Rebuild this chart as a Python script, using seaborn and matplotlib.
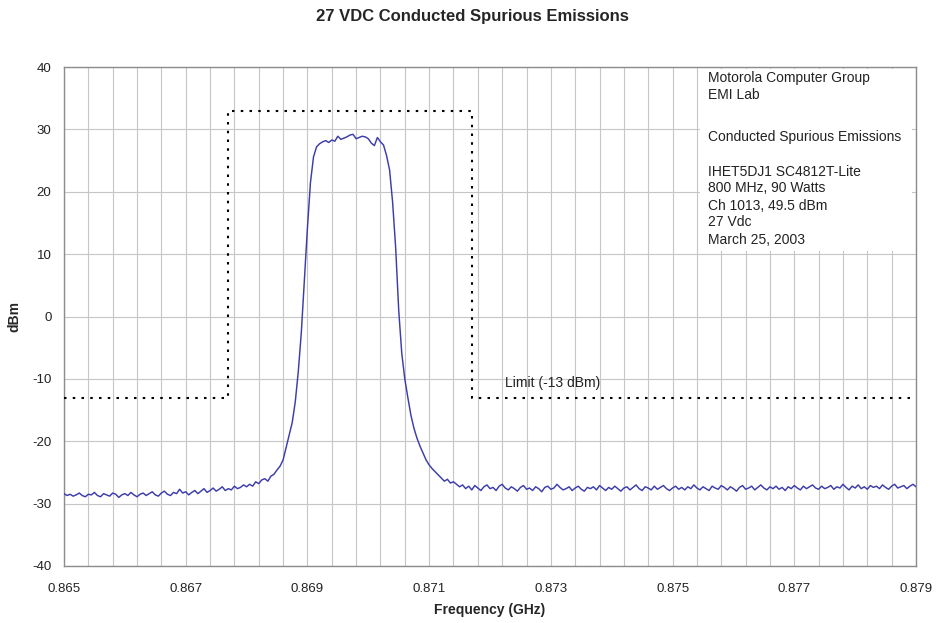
import numpy as np
import pandas as pd
import matplotlib
matplotlib.use("Agg")
import matplotlib.pyplot as plt
from matplotlib.patches import Rectangle
import seaborn as sns

# Spectrum analyzer trace, 0.865 - 0.879 GHz sweep (dBm readings)
trace_dbm = [
    # lower out-of-band floor
    -28.4, -28.7, -28.5, -28.8, -28.6, -28.3, -28.7, -28.9, -28.5, -28.6,
    -28.2, -28.7, -28.9, -28.4, -28.6, -28.8, -28.3, -28.5, -29.0, -28.6,
    -28.4, -28.7, -28.2, -28.6, -28.9, -28.5, -28.3, -28.7, -28.4, -28.1,
    -28.6, -28.8, -28.3, -28.0, -28.5, -28.7, -28.2, -28.4, -27.7, -28.3,
    -28.1, -28.6, -28.2, -27.9, -28.4, -28.0, -27.6, -28.2, -27.9, -27.5,
    -28.0, -27.7, -27.3, -27.9, -27.6, -27.8, -27.2, -27.6, -27.4, -27.0,
    -27.3, -26.9, -27.2, -26.5, -26.8, -26.2,
    # carrier skirt and occupied band
    -26.0, -26.4, -25.6, -25.3, -24.6, -24.0, -23.0, -21.0, -19.0, -17.0,
    -13.7, -8.8, -2.5, 5.8, 14.2, 21.5, 25.6, 27.2, 27.7, 28.0,
    28.2, 27.9, 28.3, 28.1, 28.9, 28.4, 28.6, 28.8, 29.1, 29.2,
    28.5, 28.7, 28.9, 28.8, 28.5, 27.8, 27.4, 28.7, 28.0, 27.5,
    25.8, 23.5, 18.3, 11.0, 1.0, -5.9, -10.0, -13.0, -15.8, -17.9,
    -19.5, -20.8, -21.9, -23.0, -23.8, -24.4, -24.9, -25.4, -25.9, -26.4,
    -26.1, -26.7, -26.5,
    # upper out-of-band floor
    -26.9, -27.3, -27.0, -27.6, -27.2, -27.8, -27.1, -27.5, -27.9, -27.3,
    -27.0, -27.6, -27.4, -27.9, -27.2, -26.9, -27.5, -27.8, -27.3, -27.6,
    -28.0, -27.4, -27.1, -27.7, -27.5, -27.9, -27.3, -27.6, -28.1, -27.4,
    -27.2, -27.7, -27.5, -26.9, -27.4, -27.8, -27.6, -27.3, -27.9, -27.5,
    -27.2, -27.7, -28.0, -27.4, -27.6, -27.3, -27.8, -27.1, -27.5, -27.9,
    -27.4, -27.7, -27.2, -27.6, -28.0, -27.5, -27.3, -27.8, -27.4, -27.0,
    -27.6, -27.9, -27.3, -27.5, -27.8, -27.2, -27.7, -27.4, -27.1, -27.6,
    -27.9, -27.5, -27.2, -27.7, -27.4, -27.8, -27.3, -27.6, -27.0, -27.5,
    -27.8, -27.3, -27.6, -27.9, -27.2, -27.5, -27.7, -27.1, -27.4, -27.8,
    -27.3, -27.6, -28.0, -27.4, -27.1, -27.7, -27.5, -27.2, -27.8, -27.4,
    -27.0, -27.5, -27.8, -27.3, -27.6, -27.2, -27.7, -27.4, -27.9, -27.3,
    -27.6, -27.1, -27.5, -27.8, -27.2, -27.6, -27.3, -27.0, -27.5, -27.7,
    -27.2, -27.6, -27.4, -27.1, -27.7, -27.3, -27.5, -26.9, -27.4, -27.8,
    -27.2, -27.5, -27.0, -27.6, -27.3, -27.7, -27.1, -27.4, -27.2, -27.6,
    -27.0, -27.4, -27.7, -27.2, -26.9, -27.5, -27.3, -27.1, -27.6, -27.2,
    -26.9, -27.3,
]
sweep_start_ghz = 0.865
sweep_stop_ghz = 0.879

# Emission mask (-13 dBm outside the authorised band)
limit_freq = [0.865, 0.8677, 0.8677, 0.8717, 0.8717, 0.879]
limit_dbm = [-13, -13, 33, 33, -13, -13]

x_ticks = [0.865, 0.867, 0.869, 0.871, 0.873, 0.875, 0.877, 0.879]
y_ticks = [-40, -30, -20, -10, 0, 10, 20, 30, 40]

info_lines = [
    "Motorola Computer Group",
    "EMI Lab",
    "Conducted Spurious Emissions",
    "IHET5DJ1 SC4812T-Lite",
    "800 MHz, 90 Watts",
    "Ch 1013, 49.5 dBm",
    "27 Vdc",
    "March 25, 2003",
]
info_rows = [0, 1, 3.5, 5.5, 6.5, 7.5, 8.5, 9.5]

sns.set_style("white")
plt.rcParams["font.family"] = ["Liberation Sans", "DejaVu Sans"]
plt.rcParams["axes.unicode_minus"] = False

trace = pd.DataFrame({
    "freq": np.linspace(sweep_start_ghz, sweep_stop_ghz, len(trace_dbm)),
    "dbm": trace_dbm,
})
mask = pd.DataFrame({"freq": limit_freq, "dbm": limit_dbm})

W, H = 938, 623
L, R, T, B = 64, 916, 67, 566
fig = plt.figure(figsize=(W / 100, H / 100), dpi=100)
ax = fig.add_axes([L / W, 1 - B / H, (R - L) / W, (B - T) / H])


def px_to_data(px, py):
    fx = 0.865 + (px - L) / (R - L) * 0.014
    fy = 40 - (py - T) / (B - T) * 80
    return fx, fy


# fine vertical grid every 0.4 MHz, horizontal grid every 10 dB
for fx in np.arange(0.865, 0.87901, 0.0004):
    ax.axvline(fx, color="#c6c6c6", lw=0.8, zorder=0)
for yv in y_ticks:
    ax.axhline(yv, color="#c6c6c6", lw=0.8, zorder=0)

sns.lineplot(data=mask, x="freq", y="dbm", sort=False, estimator=None,
             color="black", lw=1.5, linestyle=(0, (1.2, 3.0)), ax=ax, zorder=3)
sns.lineplot(data=trace, x="freq", y="dbm", sort=False, estimator=None,
             color="#3c3cab", lw=1.05, ax=ax, zorder=4)

ax.set_xlim(0.865, 0.879)
ax.set_ylim(-40, 40)
ax.set_xticks(x_ticks)
ax.set_xticklabels([f"{v:.3f}" for v in x_ticks])
ax.set_yticks(y_ticks)
ax.tick_params(axis="both", labelsize=9.5, colors="#222222", length=3,
               width=0.8, direction="out")
ax.tick_params(axis="x", pad=9)
ax.tick_params(axis="y", pad=6)
for sp in ax.spines.values():
    sp.set_color("#8c8c8c")
    sp.set_linewidth(1.0)

ax.set_xlabel("Frequency (GHz)", fontsize=10, fontweight="bold", labelpad=6)
ax.set_ylabel("dBm", fontsize=10, fontweight="bold", labelpad=8)

fig.text(472 / W, 1 - 17 / H, "27 VDC Conducted Spurious Emissions",
         ha="center", va="center", fontsize=12, fontweight="bold")

lx, ly = px_to_data(505, 390)
ax.text(lx, ly, "Limit (-13 dBm)", fontsize=10, ha="left",
        va="bottom", color="#222222", zorder=5)

# annotation block on a white panel
bx0, by0 = px_to_data(700, 251)
bx1, by1 = px_to_data(912, 69)
ax.add_patch(Rectangle((bx0, by0), bx1 - bx0, by1 - by0, facecolor="white",
                       edgecolor="none", zorder=1))
tx, _ = px_to_data(708, 0)
for row, line in zip(info_rows, info_lines):
    _, ty = px_to_data(0, 78 + 17 * row)
    ax.text(tx, ty, line, fontsize=10, ha="left", va="center",
            color="#222222", zorder=2)

fig.savefig("out.png", dpi=100)
